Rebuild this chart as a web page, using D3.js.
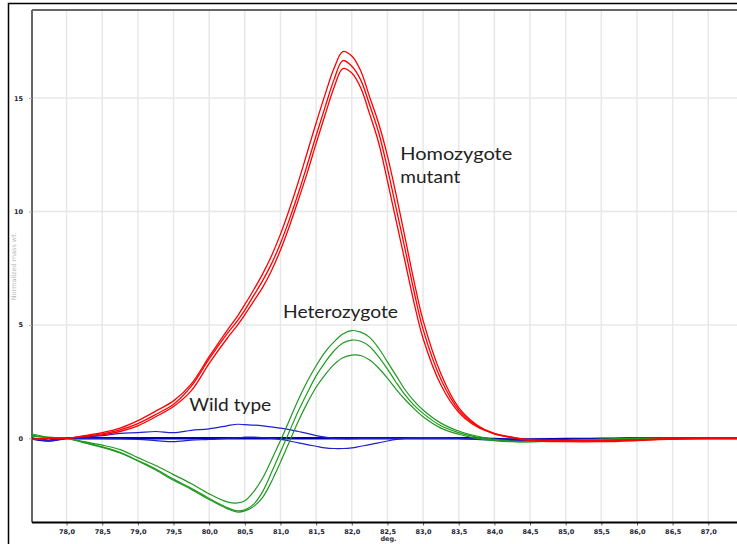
<!DOCTYPE html>
<html><head><meta charset="utf-8">
<script src="https://cdn.jsdelivr.net/npm/d3@7"></script>
<style>body{margin:0;background:#fff;} svg{display:block;}</style>
</head><body>
<svg id="c" width="737" height="544"></svg>
<script>
// temperatures (deg.)
const temps = [77.5,77.75,78.0,78.25,78.5,78.75,79.0,79.25,79.5,79.75,80.0,80.25,80.4,80.5,80.625,80.75,80.875,81.0,81.125,81.25,81.375,81.5,81.625,81.75,81.875,82.0,82.125,82.25,82.375,82.5,82.625,82.75,82.875,83.0,83.25,83.5,83.75,84.0,84.25,84.5,85.0,85.5,86.0,86.5,87.0,87.5];
// Homozygote mutant (red)
const red1 = [-0.05,0.0,0.0,0.12,0.25,0.45,0.78,1.2,1.65,2.4,3.6,4.75,5.4,5.9,6.55,7.25,8.05,9.0,10.1,11.3,12.6,13.9,15.15,16.3,17.05,16.85,16.2,15.05,13.9,12.45,10.7,8.8,6.9,5.2,2.85,1.35,0.6,0.2,0.03,-0.1,-0.15,-0.15,-0.1,-0.03,0,0];
const red2 = [-0.05,0.0,0.0,0.1,0.2,0.37,0.65,1.05,1.5,2.3,3.5,4.6,5.2,5.65,6.3,6.95,7.7,8.6,9.65,10.8,12.05,13.35,14.6,15.8,16.65,16.4,15.8,14.7,13.5,11.9,10.1,8.3,6.45,4.8,2.6,1.25,0.56,0.22,0.05,-0.08,-0.12,-0.12,-0.08,-0.02,0,0];
const red3 = [-0.05,0.0,0.0,0.08,0.15,0.3,0.55,0.95,1.4,2.1,3.3,4.4,5.0,5.45,6.05,6.65,7.4,8.3,9.35,10.5,11.7,13.0,14.25,15.45,16.3,16.1,15.45,14.3,13.05,11.35,9.55,7.75,5.95,4.4,2.35,1.15,0.52,0.2,0.04,-0.06,-0.1,-0.1,-0.06,-0.02,0,0];
// Heterozygote (green)
const green1 = [0.2,0.05,0,-0.15,-0.3,-0.5,-0.85,-1.2,-1.6,-2.0,-2.45,-2.8,-2.85,-2.75,-2.35,-1.75,-0.95,-0.1,0.8,1.7,2.5,3.2,3.8,4.25,4.6,4.75,4.68,4.45,3.98,3.37,2.75,2.13,1.64,1.25,0.67,0.32,0.1,-0.05,-0.12,-0.15,-0.1,-0.05,0,0,0,0];
const green2 = [0.15,0.03,0,-0.18,-0.38,-0.62,-0.98,-1.35,-1.8,-2.2,-2.65,-3.05,-3.2,-3.15,-2.9,-2.35,-1.5,-0.6,0.3,1.2,2.0,2.75,3.35,3.85,4.2,4.33,4.28,4.05,3.6,3.05,2.45,1.9,1.45,1.1,0.55,0.25,0.05,-0.08,-0.14,-0.15,-0.1,-0.05,0,0,0,0];
const green3 = [0.1,0.02,0,-0.2,-0.4,-0.65,-1.0,-1.4,-1.85,-2.25,-2.7,-3.1,-3.25,-3.2,-3.0,-2.6,-1.9,-1.05,-0.15,0.75,1.55,2.25,2.8,3.25,3.55,3.67,3.65,3.45,3.1,2.65,2.15,1.7,1.3,0.95,0.45,0.18,0.0,-0.1,-0.15,-0.15,-0.1,-0.05,0,0,0,0];
// Wild type (blue)
const blue1 = [0,-0.1,0,0,0,0,0,0,0,0,0,0,0,0,0,0,0,0,0,0,0,0,0,0,0,0,0,0,0,0,0,0,0,0,0,0,0,-0.03,-0.05,-0.05,-0.03,-0.02,0,0,0,0];
const blue2 = [0.0,-0.1,0.0,0.05,0.12,0.22,0.25,0.3,0.25,0.35,0.42,0.55,0.62,0.6,0.58,0.55,0.5,0.45,0.38,0.3,0.22,0.12,0.05,0.0,-0.02,-0.02,0,0,0,0,0,0,0,0,0,0,-0.03,-0.05,-0.08,-0.08,-0.05,-0.03,0,0,0,0];
const blue3 = [0,-0.1,0,0,0,-0.02,-0.05,-0.1,-0.15,-0.08,-0.05,0,0.02,0.05,0.05,0.03,0,-0.05,-0.12,-0.2,-0.28,-0.35,-0.42,-0.45,-0.45,-0.42,-0.35,-0.28,-0.2,-0.12,-0.05,0,0.02,0.03,0.02,0,-0.05,-0.08,-0.1,-0.1,-0.08,-0.05,-0.02,0,0,0];

const xTicks = [78.0,78.5,79.0,79.5,80.0,80.5,81.0,81.5,82.0,82.5,83.0,83.5,84.0,84.5,85.0,85.5,86.0,86.5,87.0];
const yTicks = [0,5,10,15];
const labels = [
  {text:"Homozygote", t:82.68, v:12.27, w:112},
  {text:"mutant", t:82.68, v:11.25, w:60},
  {text:"Heterozygote", t:81.035, v:5.3, w:115},
  {text:"Wild type", t:79.72, v:1.2, w:82}
];

const svg = d3.select("#c");
const L = 32, T = 10, R = 737, B = 522.5;
const x = d3.scaleLinear().domain([77.515, 87.515]).range([L, L + 713]);
const y = d3.scaleLinear().domain([-3.72, 18.88]).range([522.7, 10]);

// outer frame
svg.append("rect").attr("x",8.5).attr("y",3.5).attr("width",760).attr("height",560)
  .attr("fill","none").attr("stroke","#000").attr("stroke-width",1.5);

svg.append("clipPath").attr("id","pc").append("rect")
  .attr("x",L).attr("y",T).attr("width",R-L).attr("height",B-T);

// grid
const g = svg.append("g");
g.selectAll("line.vx").data(xTicks).join("line")
  .attr("x1",d=>x(d)).attr("x2",d=>x(d)).attr("y1",T).attr("y2",B)
  .attr("stroke","#e8e8e8").attr("stroke-width",1.5);
g.selectAll("line.hy").data(yTicks).join("line")
  .attr("x1",L).attr("x2",R).attr("y1",d=>y(d)).attr("y2",d=>y(d))
  .attr("stroke","#e8e8e8").attr("stroke-width",1.5);

// axes lines
svg.append("line").attr("x1",L).attr("x2",R).attr("y1",T).attr("y2",T).attr("stroke","#666").attr("stroke-width",2);
svg.append("line").attr("x1",L).attr("x2",L).attr("y1",T).attr("y2",B).attr("stroke","#666").attr("stroke-width",2);

// curves
const line = d3.line().x((d,i)=>x(temps[i])).y(d=>y(d)).curve(d3.curveCatmullRom.alpha(0.5));
const plot = svg.append("g").attr("clip-path","url(#pc)");
const series = [
  {d:blue1,c:"#0000b4",w:2.4},
  {d:blue2,c:"#2020cc",w:1.2},
  {d:blue3,c:"#2020cc",w:1.2},
  {d:green1,c:"#1f9a1f",w:1.2},
  {d:green2,c:"#1f9a1f",w:1.2},
  {d:green3,c:"#1f9a1f",w:1.2},
  {d:red1,c:"#ff0000",w:1.3},
  {d:red2,c:"#ff0000",w:1.3},
  {d:red3,c:"#ff0000",w:1.3}
];
plot.selectAll("path.s").data(series).join("path")
  .attr("d",s=>line(s.d)).attr("fill","none")
  .attr("stroke",s=>s.c).attr("stroke-width",s=>s.w);

// bottom axis
const xa = svg.append("g").attr("transform",`translate(0,${B})`)
  .call(d3.axisBottom(x).tickValues(xTicks).tickSize(3).tickFormat(d=>d3.format(".1f")(d).replace(".",",")));
xa.select(".domain").remove();
xa.selectAll("line").attr("stroke","#555");
xa.selectAll("text").attr("font-family","DejaVu Sans").attr("font-size",6.5).attr("font-weight","bold").attr("fill","#223").attr("dy","0.9em");
svg.append("line").attr("x1",L).attr("x2",R).attr("y1",B).attr("y2",B).attr("stroke","#000").attr("stroke-width",2);

// left axis
const ya = svg.append("g").attr("transform",`translate(${L},0)`)
  .call(d3.axisLeft(y).tickValues(yTicks).tickSize(3).tickFormat(d3.format("d")));
ya.select(".domain").remove();
ya.selectAll("line").attr("stroke","#aaa");
ya.selectAll("text").attr("font-family","DejaVu Sans").attr("font-size",6.5).attr("font-weight","bold").attr("fill","#223").attr("dx","-3");

// axis titles
svg.append("text").attr("x",(L+R)/2+4).attr("y",541).attr("text-anchor","middle")
  .attr("font-family","DejaVu Sans").attr("font-size",6.5).attr("font-weight","bold").attr("fill","#334").text("deg.");
svg.append("text").attr("transform",`translate(16,${(T+B)/2}) rotate(-90)`).attr("text-anchor","middle")
  .attr("font-family","DejaVu Sans").attr("font-size",6.5).attr("fill","#bbb").text("Normalized mass wt.");

// annotations
svg.selectAll("text.ann").data(labels).join("text").attr("class","ann")
  .attr("x",d=>x(d.t)).attr("y",d=>y(d.v))
  .attr("font-family","Lato").attr("font-size",17).attr("fill","#222")
  .attr("textLength",d=>d.w).attr("lengthAdjust","spacingAndGlyphs")
  .text(d=>d.text);
</script>
</body></html>
